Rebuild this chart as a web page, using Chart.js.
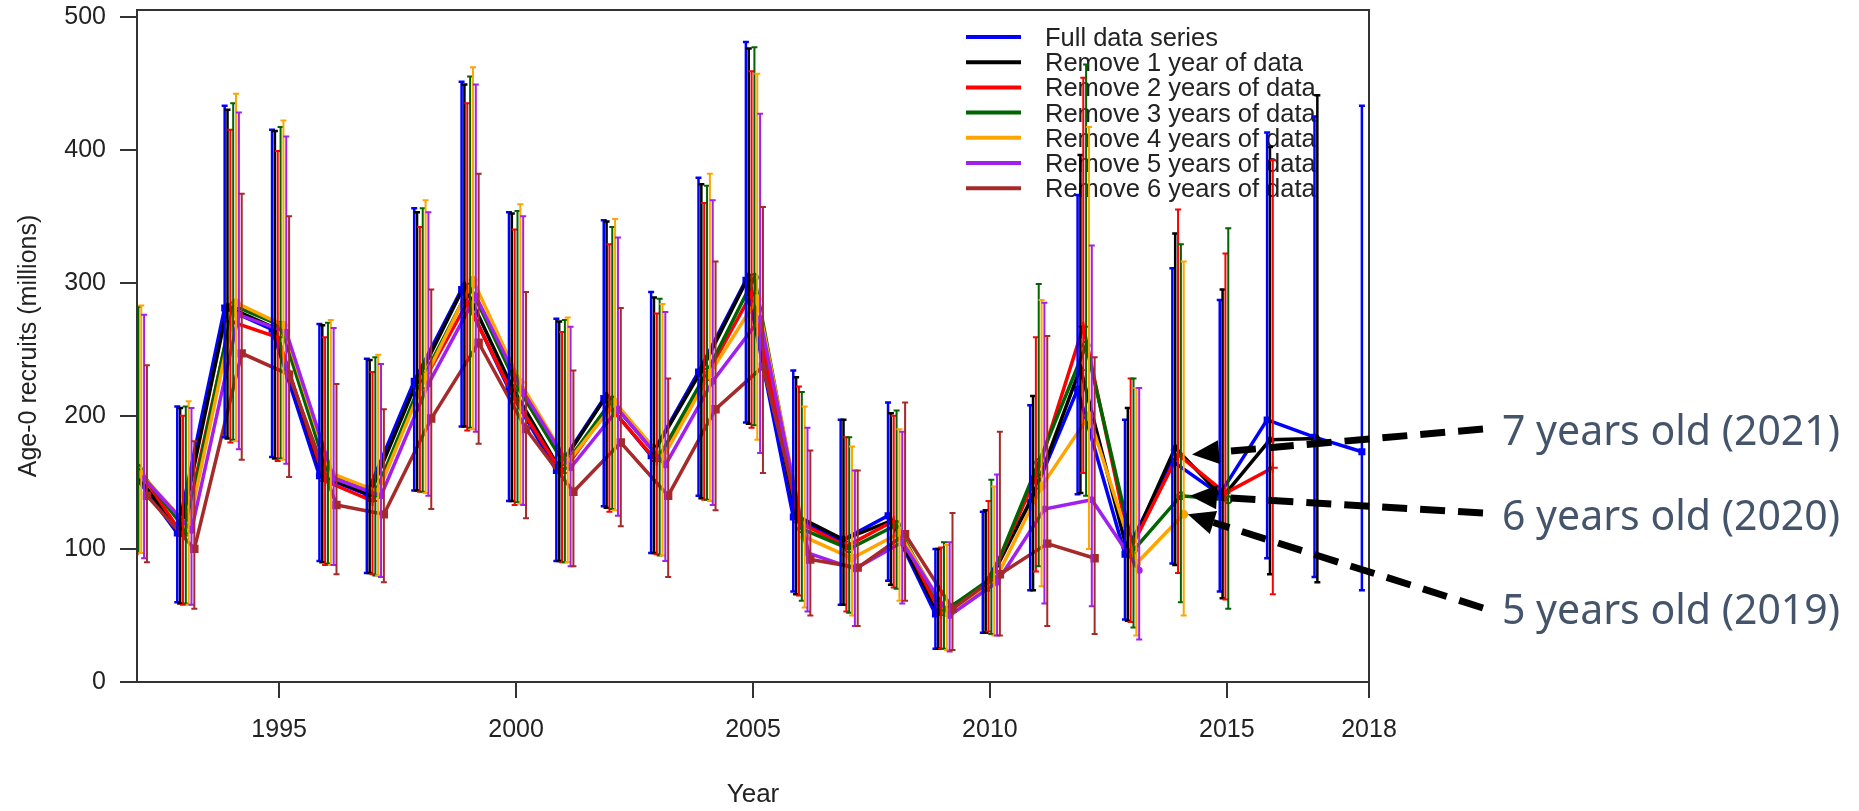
<!DOCTYPE html>
<html>
<head>
<meta charset="utf-8">
<script src="https://cdn.jsdelivr.net/npm/chart.js@4.4.1/dist/chart.umd.min.js"></script>
<style>
  html, body { margin: 0; padding: 0; background: #ffffff; }
  #wrap { width: 1859px; height: 811px; position: relative; }
</style>
</head>
<body>
<div id="wrap"><canvas id="c" width="1859" height="811"></canvas></div>
<script>
// ---------------- DATA ----------------
const years = [1992,1993,1994,1995,1996,1997,1998,1999,2000,2001,2002,2003,2004,2005,2006,2007,2008,2009,2010,2011,2012,2013,2014,2015,2016,2017,2018];
const xTickValues = [1995, 2000, 2005, 2010, 2015, 2018];
const yTickValues = [0, 100, 200, 300, 400, 500];
const seriesLabels = ["Full data series", "Remove 1 year of data", "Remove 2 years of data", "Remove 3 years of data", "Remove 4 years of data", "Remove 5 years of data", "Remove 6 years of data"];

// Full data series
const fullCenter = [160,112,281,265,155,141,226,295,220,159,213,170,233,302,124,106,125,51,70,135,220,96,166,141,197,184,173];
const fullLower  = [97,60,184,169,91,82,144,192,136,91,132,97,140,195,68,58,76,25,37,69,141,47,89,68,93,79,69];
const fullUpper  = [280,207,433,415,269,243,356,451,353,273,347,293,379,481,234,197,210,100,128,208,366,197,311,287,413,425,433];
// Remove 1 year
const rem1Center = [160,112,282,266,155,141,226,298,222,161,215,173,234,305,125,107,121,52,70,140,236,97,176,139,182,183,null];
const rem1Lower  = [97,59,183,168,90,82,144,192,136,91,131,97,138,194,66,58,73,25,37,69,142,46,88,63,81,75,null];
const rem1Upper  = [279,206,430,414,268,242,353,449,352,271,346,289,374,476,229,197,202,100,129,215,396,206,337,295,402,441,null];
// Remove 2 years
const rem2Center = [163,110,271,259,151,136,221,285,213,157,207,166,227,292,120,102,121,51,74,154,267,100,171,142,161,null,null];
const rem2Lower  = [96,58,180,166,88,81,143,189,133,90,128,96,137,191,65,53,71,25,38,83,157,45,82,62,66,null,null];
const rem2Upper  = [270,200,415,399,259,233,342,435,340,263,329,277,360,459,222,184,200,101,136,259,454,228,355,322,392,null,null];
// Remove 3 years
const rem3Center = [160,114,283,268,156,142,228,297,222,163,212,170,233,304,115,100,118,53,78,165,253,99,140,137,null,null,null];
const rem3Lower  = [97,59,182,168,89,80,143,191,135,90,130,95,137,193,61,52,70,25,36,87,140,41,60,55,null,null,null];
const rem3Upper  = [282,207,435,417,270,244,356,455,354,272,342,288,373,477,218,184,204,105,152,299,464,228,329,341,null,null,null];
// Remove 4 years
const rem4Center = [156,117,285,268,157,143,229,302,225,165,210,168,232,288,109,93,112,52,75,147,200,89,126,null,null,null,null];
const rem4Lower  = [97,58,181,167,88,80,142,190,134,90,129,95,136,182,56,50,61,24,35,72,100,35,50,null,null,null,null];
const rem4Upper  = [283,211,442,422,272,246,362,462,359,274,348,284,382,457,207,177,190,103,147,287,417,221,316,null,null,null,null];
// Remove 5 years
const rem5Center = [153,114,276,263,153,140,224,290,218,161,205,163,226,273,97,85,105,50,75,130,137,84,null,null,null,null,null];
const rem5Lower  = [93,58,175,164,88,79,140,188,133,87,125,91,133,172,53,42,59,23,35,59,57,32,null,null,null,null,null];
const rem5Upper  = [276,206,428,410,266,239,353,449,350,267,334,278,362,427,191,159,188,105,156,285,328,221,null,null,null,null,null];
// Remove 6 years
const rem6Center = [140,100,247,231,133,126,198,255,190,143,180,140,205,237,92,86,111,55,81,104,93,null,null,null,null,null,null];
const rem6Lower  = [90,55,167,154,81,75,130,179,123,87,117,79,129,157,50,42,61,24,35,42,36,null,null,null,null,null,null];
const rem6Upper  = [238,181,367,350,224,205,295,382,293,234,281,228,316,357,174,159,210,127,188,260,244,null,null,null,null,null,null];

// Annotation texts (year class 2014 as seen in later assessments)
const annotationTexts = ["7 years old (2021)", "6 years old (2020)", "5 years old (2019)"];
const annotationSeries = [2, 3, 4];   // red, green, orange
const annotationYear = 2014;

// ---------------- STYLE ----------------
const centers = [fullCenter, rem1Center, rem2Center, rem3Center, rem4Center, rem5Center, rem6Center];
const lowers  = [fullLower, rem1Lower, rem2Lower, rem3Lower, rem4Lower, rem5Lower, rem6Lower];
const uppers  = [fullUpper, rem1Upper, rem2Upper, rem3Upper, rem4Upper, rem5Upper, rem6Upper];
const colors  = ["#0000FF", "#000000", "#FF0000", "#006400", "#FFA500", "#A020F0", "#A52A2A"];
const pStyles = ["rect", "triangle", "cross", "circle", "circle", "circle", "rect"];
const pRadius = [3.5, 3.5, 5, 3.5, 3.5, 2.5, 4.5];
const pFill   = [true, false, false, false, true, true, true];
const barWidths = [2.5, 2.5, 2, 2, 2, 2, 2];
const dodge = 0.06;   // horizontal spread of series (years)

const datasets = centers.map((c, k) => {
  const off = (k - 2.5) * dodge;
  const pts = [];
  years.forEach((yr, i) => {
    if (c[i] != null) pts.push({ x: yr + off, y: c[i], lo: lowers[k][i], hi: uppers[k][i], yr: yr });
  });
  return {
    label: seriesLabels[k],
    data: pts,
    borderColor: colors[k],
    backgroundColor: colors[k],
    borderWidth: 3.5,
    pointStyle: pStyles[k],
    pointRadius: pRadius[k],
    pointBackgroundColor: pFill[k] ? colors[k] : "rgba(0,0,0,0)",
    pointBorderColor: colors[k],
    pointBorderWidth: 2,
    tension: 0,
    clip: 0,
    order: 6 - k,
    barWidth: barWidths[k]
  };
});

const TXT = "#222222";
const FONT = "'Liberation Sans', Arial, sans-serif";

// legend drawn inside the plot (under the data)
const legendPlugin = {
  id: "insideLegend",
  beforeDatasetsDraw(chart) {
    const ctx = chart.ctx;
    ctx.save();
    ctx.font = "25.5px " + FONT;
    ctx.textBaseline = "middle";
    chart.data.datasets.forEach((ds, k) => {
      const yy = 37 + 25.2 * k;
      ctx.strokeStyle = ds.borderColor;
      ctx.lineWidth = 4;
      ctx.beginPath();
      ctx.moveTo(966, yy);
      ctx.lineTo(1021, yy);
      ctx.stroke();
      ctx.fillStyle = TXT;
      ctx.fillText(ds.label, 1045, yy + 2);
    });
    ctx.restore();
  }
};

// error bars + box
const errorBarPlugin = {
  id: "errorBars",
  afterDatasetsDraw(chart) {
    const { ctx, chartArea: a, scales } = chart;
    const xs = scales.x, ys = scales.y;
    ctx.save();
    ctx.beginPath();
    ctx.rect(a.left, a.top, a.right - a.left, a.bottom - a.top);
    ctx.clip();
    chart.data.datasets.forEach((ds) => {
      ctx.strokeStyle = ds.borderColor;
      ctx.lineWidth = ds.barWidth;
      ds.data.forEach((p) => {
        if (p.lo == null || p.hi == null) return;
        const px = xs.getPixelForValue(p.x);
        const y1 = ys.getPixelForValue(p.lo);
        const y2 = ys.getPixelForValue(p.hi);
        ctx.beginPath();
        ctx.moveTo(px, y1); ctx.lineTo(px, y2);
        ctx.moveTo(px - 3, y1); ctx.lineTo(px + 3, y1);
        ctx.moveTo(px - 3, y2); ctx.lineTo(px + 3, y2);
        ctx.stroke();
      });
    });
    ctx.restore();
    // plot box
    ctx.save();
    ctx.strokeStyle = "#333333";
    ctx.lineWidth = 2;
    ctx.strokeRect(a.left, a.top, a.right - a.left, a.bottom - a.top);
    ctx.restore();
  }
};

// arrows and labels on the right
const annotationPlugin = {
  id: "arrowNotes",
  afterDraw(chart) {
    const ctx = chart.ctx;
    const textX = 1502;
    const baselines = [445, 530, 624];
    const tails = [[1483, 429], [1483, 513], [1483, 608]];
    const tipDx = [14, 9, 4];
    ctx.save();
    annotationTexts.forEach((t, j) => {
      const k = annotationSeries[j];
      const meta = chart.getDatasetMeta(k);
      const ds = chart.data.datasets[k];
      const idx = ds.data.findIndex(p => p.yr === annotationYear);
      const el = meta.data[idx];
      const tipX = el.x + tipDx[j], tipY = el.y;
      const [tx, ty] = tails[j];
      const ang = Math.atan2(tipY - ty, tipX - tx);
      const headLen = 27, headHalf = 12;
      const bx = tipX - headLen * Math.cos(ang), by = tipY - headLen * Math.sin(ang);
      ctx.strokeStyle = "#000";
      ctx.lineWidth = 7;
      ctx.setLineDash([25, 13]);
      ctx.beginPath();
      ctx.moveTo(tx, ty);
      ctx.lineTo(bx, by);
      ctx.stroke();
      ctx.setLineDash([]);
      ctx.fillStyle = "#000";
      ctx.beginPath();
      ctx.moveTo(tipX, tipY);
      ctx.lineTo(bx + headHalf * Math.sin(ang), by - headHalf * Math.cos(ang));
      ctx.lineTo(bx - headHalf * Math.sin(ang), by + headHalf * Math.cos(ang));
      ctx.closePath();
      ctx.fill();
      ctx.fillStyle = "#44546A";
      ctx.font = "41px 'Noto Sans', 'Open Sans', sans-serif";
      ctx.textBaseline = "alphabetic";
      ctx.fillText(t, textX, baselines[j]);
    });
    ctx.restore();
  }
};

new Chart(document.getElementById("c"), {
  type: "line",
  data: { datasets: datasets },
  plugins: [legendPlugin, errorBarPlugin, annotationPlugin],
  options: {
    responsive: false,
    animation: false,
    devicePixelRatio: 1,
    layout: { padding: { left: 0, right: 490, top: 10, bottom: 0 } },
    plugins: { legend: { display: false }, tooltip: { enabled: false } },
    scales: {
      x: {
        type: "linear",
        min: 1992, max: 2018,
        afterBuildTicks: (s) => { s.ticks = xTickValues.map(v => ({ value: v })); },
        afterFit: (s) => { s.height = 129; s.paddingLeft = 0; s.paddingRight = 0; },
        border: { display: false },
        grid: { drawOnChartArea: false, drawTicks: true, tickLength: 16, color: "#333333", lineWidth: 2 },
        ticks: { padding: 17, color: TXT, font: { family: FONT, size: 25 }, autoSkip: false, maxRotation: 0, callback: (v) => String(v) },
        title: { display: true, text: "Year", color: TXT, font: { family: FONT, size: 26 }, padding: { top: 0, bottom: 1 } }
      },
      y: {
        type: "linear",
        min: 0, max: 505,
        afterBuildTicks: (s) => { s.ticks = yTickValues.map(v => ({ value: v })); },
        afterFit: (s) => { s.width = 137; s.paddingTop = 0; s.paddingBottom = 0; },
        border: { display: false },
        grid: { drawOnChartArea: false, drawTicks: true, tickLength: 17, color: "#333333", lineWidth: 2 },
        ticks: { padding: 14, color: TXT, font: { family: FONT, size: 25 }, callback: (v) => String(v) },
        title: { display: true, text: "Age-0 recruits (millions)", color: TXT, font: { family: FONT, size: 25 }, padding: { top: 14, bottom: 0 } }
      }
    }
  }
});
</script>
</body>
</html>
